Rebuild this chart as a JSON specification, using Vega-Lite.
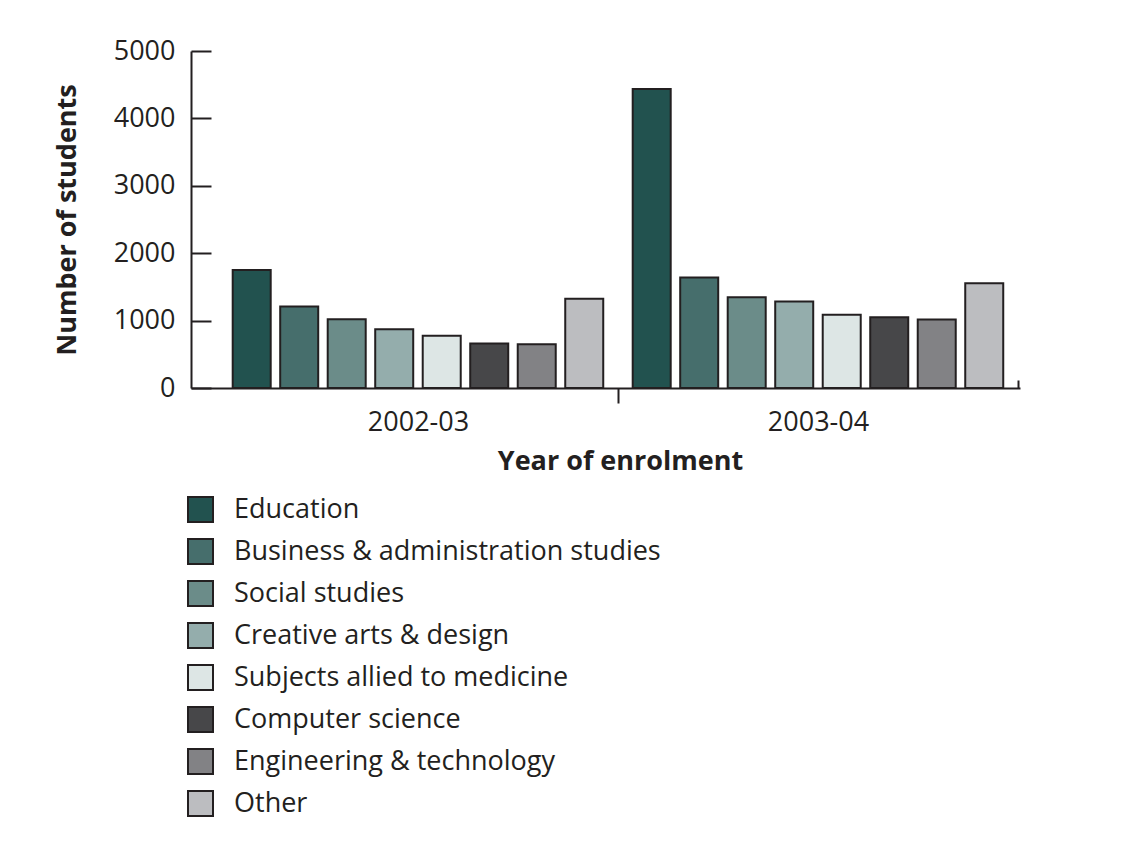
{
  "$schema": "https://vega.github.io/schema/vega-lite/v6.json",
  "autosize": "none",
  "width": 829,
  "height": 337,
  "padding": {"left": 191, "top": 51, "right": 109, "bottom": 464},
  "background": "white",
  "config": {
    "font": "Open Sans",
    "view": {"stroke": null},
    "axis": {"labelFont": "Open Sans", "titleFont": "Open Sans", "labelColor": "#231f20", "titleColor": "#231f20", "domainColor": "#231f20", "tickColor": "#231f20", "domainWidth": 2, "tickWidth": 2, "labelFontSize": 27, "titleFontSize": 27, "titleFontWeight": "bold", "grid": false},
    "legend": {"labelFont": "Open Sans", "labelFontSize": 27, "labelColor": "#231f20"}
  },
  "data": {
    "values": [
      {"year": "2002-03", "subject": "Education", "students": 1750},
      {"year": "2002-03", "subject": "Business & administration studies", "students": 1210},
      {"year": "2002-03", "subject": "Social studies", "students": 1020},
      {"year": "2002-03", "subject": "Creative arts & design", "students": 870},
      {"year": "2002-03", "subject": "Subjects allied to medicine", "students": 775},
      {"year": "2002-03", "subject": "Computer science", "students": 660},
      {"year": "2002-03", "subject": "Engineering & technology", "students": 650},
      {"year": "2002-03", "subject": "Other", "students": 1325},
      {"year": "2003-04", "subject": "Education", "students": 4435},
      {"year": "2003-04", "subject": "Business & administration studies", "students": 1640},
      {"year": "2003-04", "subject": "Social studies", "students": 1345},
      {"year": "2003-04", "subject": "Creative arts & design", "students": 1285},
      {"year": "2003-04", "subject": "Subjects allied to medicine", "students": 1085},
      {"year": "2003-04", "subject": "Computer science", "students": 1050},
      {"year": "2003-04", "subject": "Engineering & technology", "students": 1015},
      {"year": "2003-04", "subject": "Other", "students": 1555}
    ]
  },
  "mark": {"type": "bar", "stroke": "#231f20", "strokeWidth": 2},
  "encoding": {
    "x": {
      "field": "year", "type": "nominal",
      "scale": {"paddingInner": 0, "paddingOuter": 0.03625, "align": 0.93},
      "axis": {"title": "Year of enrolment", "labelAngle": 0, "tickSize": {"condition": {"test": "datum.value === '2003-04'", "value": -8}, "value": 15}, "tickOffset": 200, "labelOffset": -200, "labelPadding": {"condition": {"test": "datum.value === '2003-04'", "value": 29}, "value": 6}, "titlePadding": 13, "titleX": 429}
    },
    "xOffset": {
      "field": "subject",
      "sort": ["Education", "Business & administration studies", "Social studies", "Creative arts & design", "Subjects allied to medicine", "Computer science", "Engineering & technology", "Other"],
      "scale": {"paddingInner": 0.2, "paddingOuter": 0.31}
    },
    "y": {
      "field": "students", "type": "quantitative",
      "scale": {"domain": [0, 5000]},
      "axis": {"title": "Number of students", "format": "d", "values": [0, 1000, 2000, 3000, 4000, 5000], "tickSize": -20, "labelPadding": 36, "titlePadding": 32}
    },
    "fill": {
      "field": "subject", "type": "nominal",
      "sort": ["Education", "Business & administration studies", "Social studies", "Creative arts & design", "Subjects allied to medicine", "Computer science", "Engineering & technology", "Other"],
      "scale": {"range": ["#22524f", "#466e6c", "#6b8c89", "#94adac", "#dde6e5", "#474749", "#828285", "#bcbdc0"]},
      "legend": {
        "title": null, "orient": "none", "legendX": -4, "legendY": 445, "direction": "vertical",
        "symbolType": "square", "symbolSize": 625, "symbolStrokeColor": "#231f20", "symbolStrokeWidth": 2, "symbolOpacity": 1,
        "labelOffset": 20, "rowPadding": 9, "labelLimit": 700
      }
    }
  }
}
